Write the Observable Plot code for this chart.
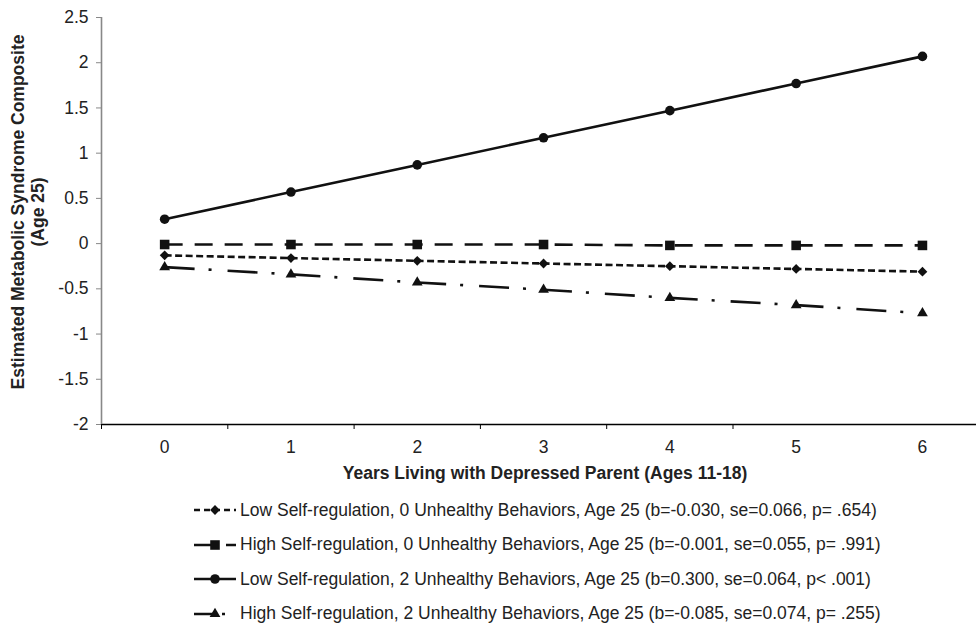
<!DOCTYPE html>
<html>
<head>
<meta charset="utf-8">
<script src="https://cdn.jsdelivr.net/npm/d3@7"></script>
<script src="https://cdn.jsdelivr.net/npm/@observablehq/plot@0.6"></script>
<style>
  html, body { margin: 0; padding: 0; background: #fff; overflow: hidden; }
  #wrap { position: relative; width: 976px; height: 627px; font-family: "Liberation Sans", Arial, sans-serif; }
  #legend { position: absolute; left: 194px; top: 493px; }
  .row { height: 34.5px; display: flex; align-items: center; font-size: 17.5px; color: #222; white-space: nowrap; }
  .row svg { margin-right: 4px; flex: none; }
</style>
</head>
<body>
<div id="wrap"><div id="chart"></div><div id="legend"></div></div>
<script>
// ---- data ----
const years = [0, 1, 2, 3, 4, 5, 6];
const lowSR0 = [-0.13, -0.16, -0.19, -0.22, -0.25, -0.28, -0.31];
const highSR0 = [-0.01, -0.01, -0.01, -0.01, -0.02, -0.02, -0.02];
const lowSR2 = [0.27, 0.57, 0.87, 1.17, 1.47, 1.77, 2.07];
const highSR2 = [-0.26, -0.34, -0.43, -0.51, -0.60, -0.68, -0.77];
const seriesLabels = [
  "Low Self-regulation, 0 Unhealthy Behaviors, Age 25 (b=-0.030, se=0.066, p= .654)",
  "High Self-regulation, 0 Unhealthy Behaviors, Age 25 (b=-0.001, se=0.055, p= .991)",
  "Low Self-regulation, 2 Unhealthy Behaviors, Age 25 (b=0.300, se=0.064, p< .001)",
  "High Self-regulation, 2 Unhealthy Behaviors, Age 25 (b=-0.085, se=0.074, p= .255)"
];
const yTicks = [-2, -1.5, -1, -0.5, 0, 0.5, 1, 1.5, 2, 2.5];
const xTickLabels = ["0", "1", "2", "3", "4", "5", "6"];
const yTitle = ["Estimated Metabolic Syndrome Composite", "(Age 25)"];
const xTitle = "Years Living with Depressed Parent (Ages 11-18)";

// ---- styles (kept apart from data) ----
const styles = [
  { symbol: "diamond2", r: 4.4, dash: "7,3.5", legendDash: "6,4" },
  { symbol: "square", r: 5.4, dash: "18,12", legendDash: "20,12,10" },
  { symbol: "circle", r: 4.8, dash: null, legendDash: null },
  { symbol: "triangle", r: 4.0, dash: "30,14,3,16", legendDash: "20,8,3,20" }
];
const allSeries = [lowSR0, highSR0, lowSR2, highSR2];
const table = allSeries.map((vals, s) => years.map((yr, i) => ({ year: yr, value: vals[i], s })));
const bandEdges = years.slice(0, -1).map(y => y - 0.5);

const font = '"Liberation Sans", Arial, sans-serif';
const FS = 17.5;
const marks = [
  Plot.ruleY([-2], { stroke: "#000", strokeWidth: 1.3 }),
  Plot.ruleX([-0.5], { stroke: "#888", strokeWidth: 1.6 }),
  Plot.axisY({ ticks: yTicks, tickSize: 5, tickPadding: 8, tickFormat: d => String(d),
    stroke: "#888", fill: "#222", fontSize: FS, label: null }),
  Plot.axisX({ ticks: bandEdges, tickSize: 5, tickFormat: () => "", stroke: "#000", label: null }),
  Plot.axisX({ ticks: years, tickSize: 0, tickPadding: 16, tickFormat: d => xTickLabels[years.indexOf(d)],
    fill: "#222", fontSize: FS, label: null }),
  Plot.text([xTitle], { frameAnchor: "bottom", dx: 6, dy: 49, lineAnchor: "middle",
    fontWeight: "bold", fontSize: FS, fill: "#222" }),
  Plot.text([yTitle[0]], { frameAnchor: "left", rotate: -90, dx: -83, dy: -9, textAnchor: "middle",
    lineAnchor: "middle", fontWeight: "bold", fontSize: FS, fill: "#222" }),
  Plot.text([yTitle[1]], { frameAnchor: "left", rotate: -90, dx: -63, dy: -9, textAnchor: "middle",
    lineAnchor: "middle", fontWeight: "bold", fontSize: FS, fill: "#222" })
];
table.forEach((rows, s) => {
  const st = styles[s];
  marks.push(Plot.line(rows, { x: "year", y: "value", stroke: "#111", strokeWidth: 2.6,
    strokeDasharray: st.dash, strokeLinecap: "butt" }));
  marks.push(Plot.dot(rows, { x: "year", y: "value", symbol: () => st.symbol, r: st.r, fill: "#111", stroke: "none" }));
});

const pxPerUnit = 126.3;
const chart = Plot.plot({
  width: 976,
  height: 490,
  marginLeft: 101,
  marginRight: 0,
  marginTop: 17,
  marginBottom: 66,
  style: { fontFamily: font, fontSize: FS + "px", background: "#fff", overflow: "visible" },
  x: { type: "linear", domain: [-0.5, -0.5 + 875 / pxPerUnit] },
  y: { domain: [-2, 2.5] },
  symbol: { type: "identity" },
  marks
});
document.getElementById("chart").appendChild(chart);

// ---- legend ----
const legend = document.getElementById("legend");
const symMap = { diamond2: d3.symbolDiamond2, square: d3.symbolSquare, circle: d3.symbolCircle, triangle: d3.symbolTriangle };
seriesLabels.forEach((lab, s) => {
  const st = styles[s];
  const row = document.createElement("div");
  row.className = "row";
  const svg = d3.create("svg").attr("width", 42).attr("height", 14);
  svg.append("line").attr("x1", 0).attr("x2", 42).attr("y1", 7).attr("y2", 7)
    .attr("stroke", "#111").attr("stroke-width", 2.6)
    .attr("stroke-dasharray", st.legendDash);
  svg.append("path").attr("transform", "translate(21,7)")
    .attr("d", d3.symbol(symMap[st.symbol], Math.PI * st.r * st.r)()).attr("fill", "#111");
  row.appendChild(svg.node());
  const span = document.createElement("span");
  span.textContent = lab;
  row.appendChild(span);
  legend.appendChild(row);
});
</script>
</body>
</html>
